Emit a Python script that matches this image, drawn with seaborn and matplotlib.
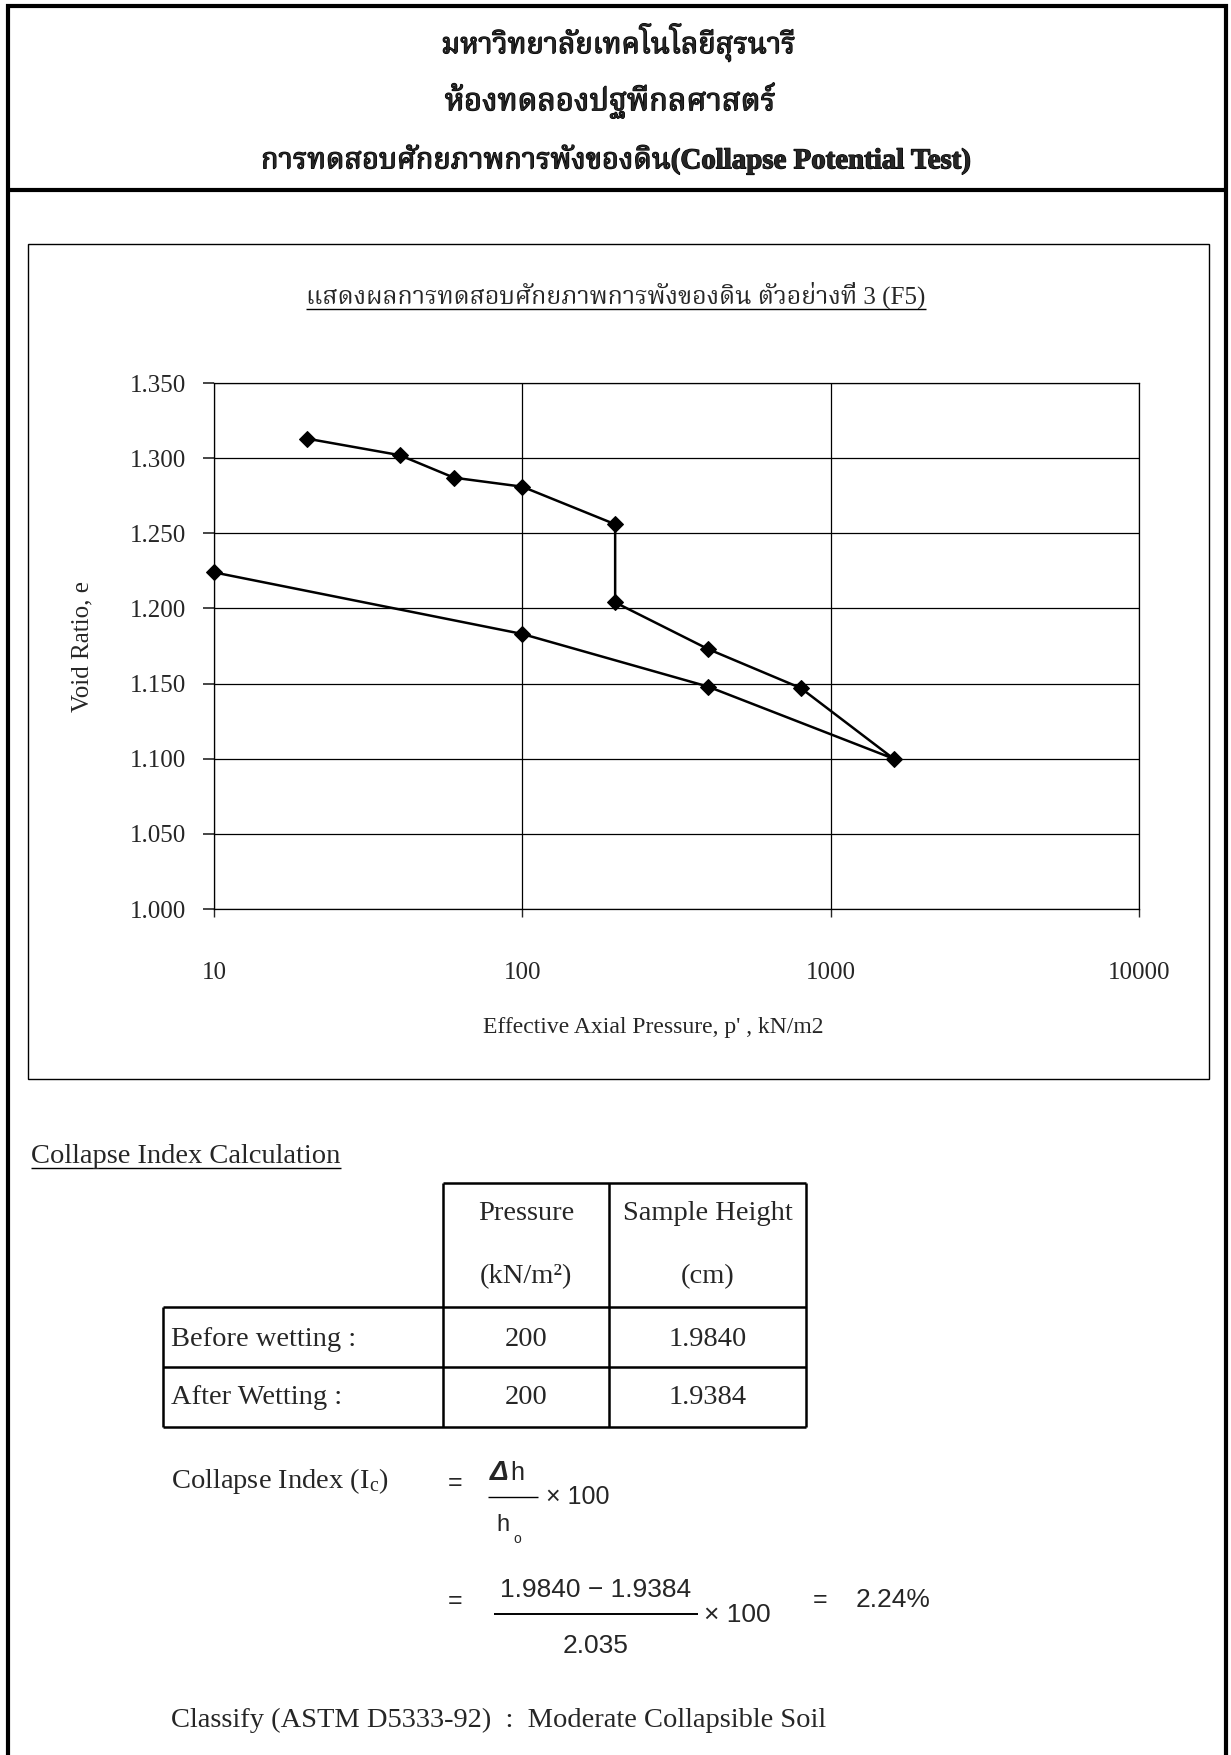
import matplotlib
matplotlib.use("Agg")
import matplotlib.pyplot as plt
import matplotlib.patheffects as pe
import seaborn as sns
from matplotlib.lines import Line2D
from matplotlib.patches import Rectangle
from matplotlib.ticker import FixedLocator, FormatStrFormatter, NullLocator
from matplotlib import font_manager
from matplotlib.ft2font import FT2Font

# ---- data ----
pressure = [20, 40, 60, 100, 200, 200, 400, 800, 1600, 400, 100, 10]
void_ratio = [1.313, 1.302, 1.287, 1.281, 1.256, 1.204, 1.173, 1.147, 1.100, 1.148, 1.183, 1.224]
x_ticks = [10, 100, 1000, 10000]
y_ticks = [1.000, 1.050, 1.100, 1.150, 1.200, 1.250, 1.300, 1.350]

header_lines = ["มหาวิทยาลัยเทคโนโลยีสุรนารี",
                "ห้องทดลองปฐพีกลศาสตร์",
                "การทดสอบศักยภาพการพังของดิน(Collapse Potential Test)"]
chart_title = "แสดงผลการทดสอบศักยภาพการพังของดิน ตัวอย่างที่ 3 (F5)"

table_head = [["Pressure", "(kN/m²)"], ["Sample Height", "(cm)"]]
row_labels = ["Before wetting :", "After Wetting :"]
row_pressure = ["200", "200"]
row_height = ["1.9840", "1.9384"]
h_before, h_after, h_zero, ci = "1.9840", "1.9384", "2.035", "2.24%"
classify = "Classify (ASTM D5333-92)  :  Moderate Collapsible Soil"


# ---- fonts: find something that can draw Thai ----
def find_thai_font():
    names = []
    for fe in font_manager.fontManager.ttflist:
        try:
            cmap = FT2Font(fe.fname).get_charmap()
        except Exception:
            continue
        if 0x0E21 in cmap and 0x0E34 in cmap:
            names.append(fe.name)
    for key in ["Serif Thai", "Thai", ""]:
        for n in names:
            if key in n:
                return n
    return None


thai = find_thai_font()
SERIF = ["Liberation Serif"] + ([thai] if thai else []) + ["DejaVu Sans"]
SANS = ["Liberation Sans", "DejaVu Sans"]

sns.set_style("white")
plt.rcParams["font.family"] = SERIF
plt.rcParams["mathtext.fontset"] = "custom"
plt.rcParams["mathtext.rm"] = "Liberation Serif"
plt.rcParams["mathtext.it"] = "Liberation Serif:italic"

W, H = 1231, 1755
fig = plt.figure(figsize=(W / 100, H / 100), dpi=100)
fig.patch.set_facecolor("white")


def put(x, y, s, size=20.5, family=SERIF, ha="left", va="center", **kw):
    return fig.text(x / W, 1 - y / H, s, fontsize=size, family=family, ha=ha, va=va, **kw)


def hline(x0, x1, y, lw=1.8):
    fig.add_artist(Line2D([x0 / W, x1 / W], [1 - y / H] * 2, transform=fig.transFigure,
                          color="black", lw=lw, solid_capstyle="butt"))


def vline(x, y0, y1, lw=1.8):
    fig.add_artist(Line2D([x / W] * 2, [1 - y0 / H, 1 - y1 / H], transform=fig.transFigure,
                          color="black", lw=lw, solid_capstyle="butt"))


renderer = fig.canvas.get_renderer()


def fit(t, target):
    w = t.get_window_extent(renderer).width
    if w > 0:
        t.set_fontsize(t.get_fontsize() * target / w)
    return t


heavy = [pe.withStroke(linewidth=0.9, foreground="black")]

# ---- page frame ----
vline(8, 4, H, lw=3)
vline(1226, 4, H, lw=3)
hline(6, 1228, 6, lw=3)
hline(6, 1228, 190, lw=3)

# header
fit(put(618, 43, header_lines[0], size=24, ha="center", weight="bold", path_effects=heavy), 354)
fit(put(610, 101, header_lines[1], size=24, ha="center", weight="bold", path_effects=heavy), 331)
fit(put(616, 160, header_lines[2], size=24, ha="center", weight="bold", path_effects=heavy), 710)

# chart box
fig.add_artist(Rectangle((28 / W, 1 - 1079 / H), (1209 - 28) / W, (1079 - 244) / H,
                         transform=fig.transFigure, fill=False, ec="black", lw=1.0))

t = fit(put(616, 304, chart_title, size=20, ha="center", va="baseline"), 620)
bb = t.get_window_extent(renderer)
hline(bb.x0, bb.x1, 309, lw=1.0)

# ---- the chart ----
ax = fig.add_axes([214 / W, 1 - 909 / H, (1139 - 214) / W, (909 - 383) / H])
sns.lineplot(x=pressure, y=void_ratio, sort=False, estimator=None, ax=ax,
             color="black", lw=1.8, marker="D", markersize=8.5,
             markeredgecolor="black", markerfacecolor="black", clip_on=False, zorder=5)
ax.set_xscale("log")
ax.set_xlim(10, 10000)
ax.set_ylim(1.0, 1.35)
ax.xaxis.set_major_locator(FixedLocator(x_ticks))
ax.xaxis.set_minor_locator(NullLocator())
ax.set_xticklabels([str(v) for v in x_ticks])
ax.set_yticks(y_ticks)
ax.yaxis.set_major_formatter(FormatStrFormatter("%.3f"))
ax.grid(True, which="major", color="black", lw=0.9)
for s in ax.spines.values():
    s.set_color("black")
    s.set_linewidth(0.9)
ax.tick_params(axis="y", direction="out", length=8, width=1.2, pad=12, labelsize=18, left=True)
ax.tick_params(axis="x", direction="out", length=6, width=1.0, pad=32, labelsize=18, bottom=True)
ax.set_xlabel("Effective Axial Pressure, p' , kN/m2", fontsize=17)
ax.xaxis.set_label_coords(0.475, -0.205)
ax.xaxis.label.set_va("top")
ax.set_ylabel("Void Ratio, e", fontsize=18)
ax.yaxis.set_label_coords(-0.13, 0.5)

# ---- collapse index section ----
put(31, 1163, "Collapse Index Calculation", size=20.5, va="baseline")
hline(31, 341, 1168, lw=1.0)

cols = [163, 443, 609, 806]
rows = [1183, 1307, 1367, 1427]
hline(443, 806, rows[0])
for y in rows[1:]:
    hline(163, 806, y)
vline(163, rows[1], rows[3])
for x in cols[1:]:
    vline(x, rows[0], rows[3])

for j, (a, b) in enumerate(table_head):
    cx = (cols[j + 1] + cols[j + 2]) / 2
    put(cx, 1214, a, ha="center")
    put(cx, 1277, b, ha="center")
for i, ry in enumerate([1339, 1398]):
    put(171, ry, row_labels[i])
    put((cols[1] + cols[2]) / 2, ry, row_pressure[i], ha="center")
    put((cols[2] + cols[3]) / 2, ry, row_height[i], ha="center")

# formula
put(171, 1481, r"Collapse Index (I$_\mathrm{c}$)")
put(455, 1483, "=", size=18, family=SANS, ha="center")
put(490, 1473, "Δ", size=20, family=SANS, weight="bold", style="italic")
put(510, 1473, "h", size=18, family=SANS)
hline(488, 538, 1497, lw=1.0)
put(546, 1497, "× 100", size=18, family=SANS)
put(496, 1525, "h", size=17, family=SANS)
put(513, 1539, "o", size=10, family=SANS)

put(455, 1601, "=", size=18, family=SANS, ha="center")
put(596, 1590, f"{h_before} − {h_after}", size=19, family=SANS, ha="center")
hline(494, 698, 1614, lw=1.4)
put(704, 1615, "× 100", size=19, family=SANS)
put(596, 1646, h_zero, size=19, family=SANS, ha="center")
put(820, 1600, "=", size=18, family=SANS, ha="center")
put(856, 1600, ci, size=19, family=SANS)

put(171, 1720, classify)

fig.savefig("out.png", dpi=100)
